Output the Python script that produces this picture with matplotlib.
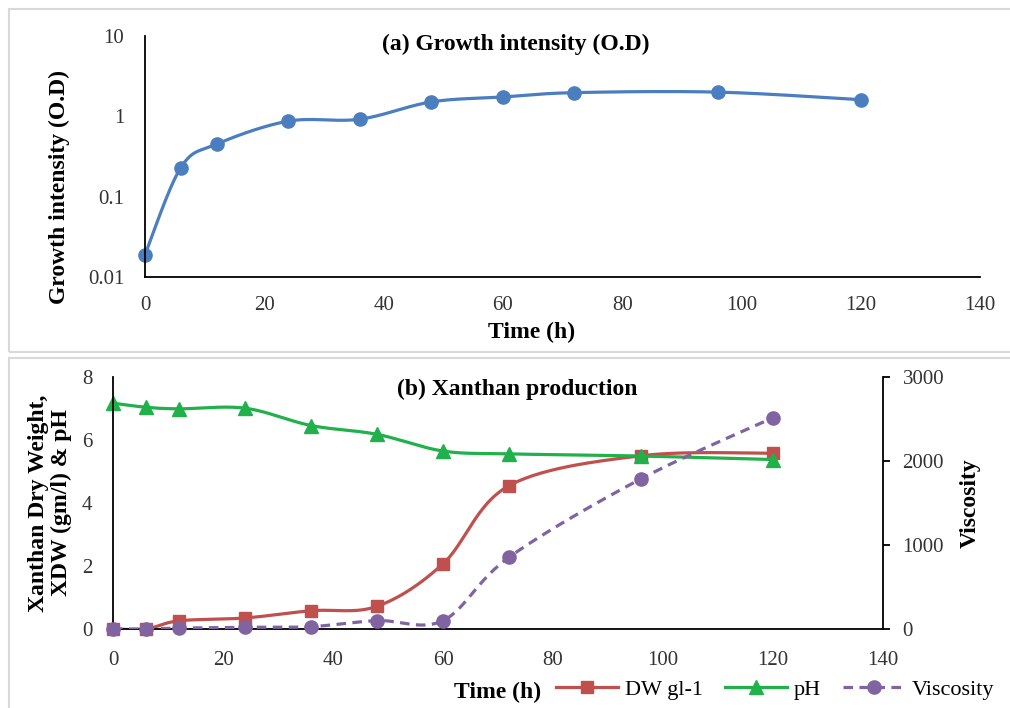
import matplotlib
matplotlib.use('Agg')
import matplotlib.pyplot as plt
import numpy as np
from matplotlib.patches import Rectangle
from matplotlib.lines import Line2D

plt.rcParams['font.family'] = ['Liberation Serif', 'DejaVu Serif']

# (a) growth
time_od = [0, 6, 12, 24, 36, 48, 60, 72, 96, 120]
od = [0.019, 0.23, 0.45, 0.87, 0.92, 1.51, 1.74, 1.97, 2.0, 1.61]

# (b) xanthan production
time_x = [0, 6, 12, 24, 36, 48, 60, 72, 96, 120]
dw = [0.0, 0.0, 0.26, 0.35, 0.58, 0.72, 2.07, 4.55, 5.5, 5.58]
ph = [7.17, 7.04, 6.99, 7.01, 6.46, 6.18, 5.65, 5.56, 5.49, 5.38]
viscosity = [0, 0, 10, 20, 28, 100, 100, 854, 1788, 2515]

x_ticks = [0, 20, 40, 60, 80, 100, 120, 140]

BLUE = '#4a7ebf'
RED = '#c0504d'
GREEN = '#21b14b'
PURPLE = '#8064a2'
TICK_FS = 15
BOLD_FS = 17


def smooth(x, y, n=30):
    # Excel-style smoothed line (Catmull-Rom as cubic Bezier)
    x = np.asarray(x, float)
    y = np.asarray(y, float)
    px = np.concatenate([[x[0]], x, [x[-1]]])
    py = np.concatenate([[y[0]], y, [y[-1]]])
    t = np.linspace(0, 1, n)[:, None]
    xs, ys = [], []
    for i in range(1, len(px) - 2):
        p0 = np.array([px[i], py[i]])
        p3 = np.array([px[i + 1], py[i + 1]])
        c1 = p0 + (p3 - np.array([px[i - 1], py[i - 1]])) / 6
        c2 = p3 - (np.array([px[i + 2], py[i + 2]]) - p0) / 6
        b = ((1 - t) ** 3) * p0 + 3 * ((1 - t) ** 2) * t * c1 + 3 * (1 - t) * t ** 2 * c2 + t ** 3 * p3
        xs.append(b[:, 0])
        ys.append(b[:, 1])
    return np.concatenate(xs), np.concatenate(ys)


fig = plt.figure(figsize=(10.1, 7.08), dpi=100)

# panel frames
fig.patches.append(Rectangle((9 / 1010, 1 - 352 / 708), 1.2, 343 / 708, transform=fig.transFigure,
                             fill=False, edgecolor='#d9d9d9', lw=1.5))
fig.patches.append(Rectangle((9 / 1010, -0.1), 1.2, 0.1 + 1 - 358 / 708, transform=fig.transFigure,
                             fill=False, edgecolor='#d9d9d9', lw=1.5))

# ---- (a)
ax1 = fig.add_axes([0.1436, 0.6088, 0.8267, 0.3404])
ax1.set_yscale('log')
sx, sy = smooth(time_od, np.log10(od))
ax1.plot(sx, 10 ** sy, color=BLUE, lw=2.3)
ax1.plot(time_od, od, 'o', color=BLUE, ms=9.5, clip_on=False)
ax1.set_xlim(0, 140)
ax1.set_ylim(0.01, 10)
ax1.set_xticks(x_ticks)
ax1.set_yticks([0.01, 0.1, 1, 10])
ax1.set_yticklabels(['0.01', '0.1', '1', '10'])
ax1.minorticks_off()
ax1.tick_params(axis='both', length=0, labelsize=TICK_FS, colors='#333333')
ax1.tick_params(axis='x', pad=14)
ax1.tick_params(axis='y', pad=15)
ax1.spines[['top', 'right']].set_visible(False)
for s in ['left', 'bottom']:
    ax1.spines[s].set_linewidth(1.3)
ax1.set_xlabel('Time (h)', fontsize=BOLD_FS, fontweight='bold')
ax1.xaxis.set_label_coords(0.463, -0.185)
ax1.set_ylabel('Growth intensity (O.D)', fontsize=BOLD_FS, fontweight='bold')
ax1.yaxis.set_label_coords(-0.09, 0.375)
fig.text(0.511, 1 - 44 / 708, '(a) Growth intensity (O.D)', ha='center', va='center',
         fontsize=BOLD_FS, fontweight='bold')

# ---- (b)
ax2 = fig.add_axes([0.1119, 0.1116, 0.7624, 0.3559])
ax3 = ax2.twinx()
sx, sy = smooth(time_x, dw)
ax2.plot(sx, sy, color=RED, lw=2.3)
ax2.plot(time_x, dw, 's', color=RED, ms=9, clip_on=False)
sx, sy = smooth(time_x, ph)
ax2.plot(sx, sy, color=GREEN, lw=2.3)
ax2.plot(time_x, ph, '^', color=GREEN, ms=9.5, clip_on=False)
sx, sy = smooth(time_x, viscosity)
ax3.plot(sx, sy, color=PURPLE, lw=2.3, ls=(0, (3, 2)))
ax3.plot(time_x, viscosity, 'o', color=PURPLE, ms=9.5, clip_on=False)

ax2.set_xlim(0, 140)
ax2.set_ylim(0, 8)
ax3.set_ylim(0, 3000)
ax2.set_xticks(x_ticks)
ax2.set_yticks([0, 2, 4, 6, 8])
ax3.set_yticks([0, 1000, 2000, 3000])
ax2.tick_params(axis='both', length=0, labelsize=TICK_FS, colors='#333333')
ax2.tick_params(axis='x', pad=16)
ax2.tick_params(axis='y', pad=15)
ax3.tick_params(axis='y', length=5, width=1.3, labelsize=TICK_FS, labelcolor='#333333', pad=9)
for a in (ax2, ax3):
    a.spines['top'].set_visible(False)
    for s in ['left', 'bottom', 'right']:
        a.spines[s].set_linewidth(1.3)
ax2.spines['right'].set_visible(False)
ax3.spines['left'].set_visible(False)
ax3.spines['bottom'].set_visible(False)
ax2.set_xlabel('Time (h)', fontsize=BOLD_FS, fontweight='bold')
ax2.xaxis.set_label_coords(0.5, -0.21)
ax2.set_ylabel('Xanthan Dry Weight,\nXDW (gm/l) & pH', fontsize=BOLD_FS, fontweight='bold',
               linespacing=1.15)
ax2.yaxis.set_label_coords(-0.053, 0.5)
ax3.set_ylabel('Viscosity', fontsize=BOLD_FS, fontweight='bold')
ax3.yaxis.set_label_coords(1.1, 0.5)
fig.text(0.512, 1 - 389 / 708, '(b) Xanthan production', ha='center', va='center',
         fontsize=BOLD_FS, fontweight='bold')

handles = [
    Line2D([], [], color=RED, lw=2.3, marker='s', ms=9),
    Line2D([], [], color=GREEN, lw=2.3, marker='^', ms=9.5),
    Line2D([], [], color=PURPLE, lw=2.3, ls=(0, (3, 2)), marker='o', ms=9.5),
]
fig.legend(handles, ['DW gl-1', 'pH', 'Viscosity'], loc='center left',
           bbox_to_anchor=(556 / 1010, 1 - 690 / 708), ncol=3, frameon=False,
           fontsize=16, handlelength=2.8, handletextpad=0.3, columnspacing=1.0,
           borderaxespad=0, borderpad=0)

fig.savefig('out.png', dpi=100)
